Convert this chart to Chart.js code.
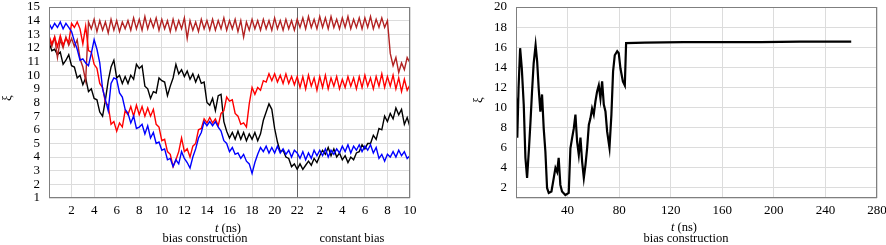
<!DOCTYPE html>
<html>
<head>
<meta charset="utf-8">
<script src="https://cdn.jsdelivr.net/npm/chart.js@4.4.1/dist/chart.umd.min.js"></script>
<style>
  html, body { margin: 0; padding: 0; background: #fff; }
  #wrap { position: relative; width: 886px; height: 245px; overflow: hidden; font-family: 'Liberation Serif', serif; }
  canvas { position: absolute; top: 0; }
  .lbl { position: absolute; font-size: 12.5px; line-height: 1; color: #000; white-space: nowrap; transform: translate(-50%, -50%); }
  .ylbl { font-size: 13px; transform: translate(-50%, -50%) rotate(-90deg); }
</style>
</head>
<body>
<div id="wrap">
  <canvas id="leftChart" width="440" height="245" style="left:0"></canvas>
  <canvas id="rightChart" width="446" height="245" style="left:440px"></canvas>
  <div class="lbl ylbl" style="left:6px; top:98px">ξ</div>
  <div class="lbl" style="left:228px; top:228px"><i>t</i> (ns)</div>
  <div class="lbl" style="left:205px; top:238px">bias construction</div>
  <div class="lbl" style="left:352px; top:238px">constant bias</div>
  <div class="lbl ylbl" style="left:477px; top:100px">ξ</div>
  <div class="lbl" style="left:684px; top:227px"><i>t</i> (ns)</div>
  <div class="lbl" style="left:686px; top:238px">bias construction</div>
</div>
<script>
// --- data, left panel: one sample every 0.25 ns, 0..32 (22 ns build-up + 10 ns constant bias) ---
const leftStep = 0.25;
const splitAt = 22;

const darkRedXi = [
  12.7, 12.1, 12.8, 11.3, 12.6, 12.0, 12.8, 12.2, 12.7, 12.1, 12.6, 11.2, 10.6, 9.6, 13.9, 13.4,
  14.1, 13.2, 14.0, 13.3, 13.9, 13.1, 14.1, 13.3, 14.0, 13.2, 13.9, 13.4, 14.0,
  13.3, 14.2, 13.4, 14.1, 13.3, 14.3, 13.4, 14.1, 13.5, 14.2, 13.3, 14.1,
  13.4, 14.0, 13.2, 14.1, 13.3, 14.0, 13.4, 14.2, 12.7, 14.0, 13.3, 13.9,
  13.2, 14.1, 13.4, 14.0, 13.3, 14.1, 13.3, 14.0, 13.4, 14.2, 13.3, 14.0,
  13.4, 14.1, 13.2, 14.0, 12.8, 13.9, 13.3, 14.1, 13.4, 14.0, 13.3, 14.1,
  13.4, 14.0, 13.3, 14.2, 13.4, 14.0, 13.3, 14.1, 13.4, 14.0, 13.3, 14.1,
  13.5, 14.2, 13.4, 14.3, 13.5, 14.1, 13.4, 14.3, 13.5, 14.2, 13.4, 14.3,
  13.5, 14.1, 13.4, 14.2, 13.5, 14.3, 13.4, 14.1, 13.5, 14.2, 13.4, 14.2,
  13.5, 14.3, 13.4, 14.1, 13.5, 14.2, 13.5,
  14.0,
  11.6, 10.7, 11.3, 10.2, 10.9, 10.4, 11.3, 10.9
];

const redXi = [
  12.9, 12.3, 12.8, 12.1, 12.9, 12.2, 12.7, 12.4, 13.8, 13.5, 13.9, 13.4, 12.3, 13.6, 11.8, 11.7,
  10.8, 10.5, 9.4, 9.1, 8.0, 7.8, 6.4, 6.6, 5.9, 6.5, 6.2, 7.4,
  7.1, 7.7, 7.0, 7.8, 7.1, 7.7, 7.0, 7.6, 7.0, 7.5, 6.4, 6.2,
  5.2, 5.3, 4.4, 4.2, 3.3, 3.8, 4.4, 5.4, 4.4, 4.6, 4.0, 4.8,
  5.0, 6.0, 6.1, 6.8, 6.5, 6.9, 6.5, 6.8, 6.3, 7.2, 7.4, 8.4,
  8.1, 8.2, 7.2, 7.0, 6.4, 6.5, 6.2, 7.9, 9.1, 8.6, 9.1, 8.9,
  9.6, 9.5, 10.1, 9.6, 10.1, 9.5, 10.0, 9.4, 10.1, 9.4, 9.9, 9.3, 9.9,
  9.1, 9.9, 9.0, 10.0, 9.2, 9.8, 8.9, 9.9, 9.1, 10.0,
  9.0, 9.8, 9.2, 9.9, 9.0, 9.7, 9.1, 9.9, 9.2, 9.8,
  9.0, 9.9, 9.1, 10.0, 9.2, 9.8, 9.0, 9.9, 9.2, 10.1,
  9.1, 9.9, 9.2, 10.0, 9.0, 9.8, 8.8, 9.7, 8.9, 9.3
];

const blueXi = [
  13.8, 13.4, 13.8, 13.5, 13.9, 13.4, 13.8, 13.5, 13.2, 12.5, 11.9, 11.1, 11.2, 10.9, 10.7, 11.6,
  12.6, 11.9, 10.9, 9.0, 8.2, 7.4, 9.4, 9.8, 9.7, 8.7, 8.4, 7.5,
  7.2, 6.5, 7.0, 6.1, 6.2, 6.4, 5.7, 6.3, 5.4, 5.8, 5.0, 5.1,
  4.5, 4.6, 3.8, 3.9, 3.3, 3.8, 3.5, 4.4, 3.9, 3.6, 3.2, 4.0,
  4.6, 5.4, 5.8, 6.6, 6.3, 6.6, 6.3, 6.6, 6.2, 5.9, 5.2, 5.0,
  4.4, 4.7, 4.2, 4.3, 3.9, 4.2, 3.7, 3.5, 2.8, 3.6, 4.2, 4.7,
  4.4, 4.8, 4.3, 4.7, 4.3, 4.8, 4.3, 4.6, 4.2, 4.5, 4.0, 4.5, 4.3,
  3.9, 4.4, 3.8, 4.3, 3.9, 4.5,
  4.1, 4.5, 4.1, 4.6, 4.0, 4.5, 4.2, 4.6,
  4.3, 4.8, 4.4, 4.9, 4.3, 4.8, 4.5, 4.9, 4.4, 4.8, 4.5, 4.9, 4.3, 4.7,
  3.9, 4.2, 3.7, 4.2,
  4.0, 4.4, 4.0, 4.5, 4.1, 4.4, 3.9, 4.1
];

const blackXi = [
  12.4, 11.8, 11.9, 11.5, 11.7, 10.8, 11.1, 11.5, 10.7, 10.6, 9.8, 10.0, 9.3, 9.8, 8.8, 9.0,
  8.3, 8.2, 7.3, 7.0, 8.2, 9.6, 10.6, 11.1, 9.8, 10.0, 9.4, 9.9,
  9.4, 10.0, 9.7, 10.8, 10.5, 10.7, 9.2, 9.0, 8.3, 8.8, 8.7, 9.8,
  9.6, 9.5, 8.5, 9.2, 9.8, 10.8, 10.1, 10.4, 9.9, 10.3, 9.7, 10.1,
  9.5, 10.0, 9.4, 9.5, 8.0, 7.8, 8.3, 7.4, 8.5, 8.6, 6.6, 5.9,
  5.4, 5.8, 5.3, 5.9, 5.3, 5.8, 5.2, 5.7, 5.3, 5.8, 5.2, 5.7,
  6.7, 7.3, 7.9, 7.5, 6.1, 5.1, 4.4, 4.5, 4.0, 3.9, 3.3, 3.5, 3.1,
  3.5, 3.1, 3.4, 3.7, 3.4, 3.9, 3.6, 4.1, 4.5, 4.2,
  4.7, 4.1, 4.6, 4.0, 4.3, 3.8, 4.1, 3.6, 4.0, 3.8,
  4.3, 4.4, 4.9, 4.6, 5.0, 5.0, 5.6, 5.3, 6.1, 6.0,
  7.0, 6.6, 7.2, 6.8, 7.6, 7.1, 7.5, 6.4, 6.9, 6.2
];

// --- data, right panel ---
const rightT = [
  0, 1, 2, 3.2, 4.5, 6, 7.3, 8.6, 10, 11.2, 12.4, 13.7, 15.2, 16.4, 17.6, 18.9, 20.2, 21.5,
  22.8, 24.1, 25.4, 27.5, 29.3, 30.6, 31.9, 33.1, 34.4, 35.7, 38.3, 40.9, 42.2, 43.5, 44.8,
  46.1, 47.4, 48.7, 50, 51.3, 52.6, 53.9, 55.2, 56.5, 57.7, 59, 60.3, 61.6, 62.9, 64.2,
  65.5, 66.8, 68.1, 69.4, 70.7, 72.5, 74, 75.3, 76.6, 78.5, 79.7, 81, 82.9, 84.4, 85.4,
  100, 130, 160, 190, 220, 250, 260
];
const rightXi = [
  11, 7.0, 12.0, 15.9, 13.9, 10.3, 5.0, 3.0, 5.8, 8.5, 11.5, 14.4, 16.2, 14.6, 11.9, 9.6, 11.3, 7.9,
  5.6, 2.0, 1.5, 1.65, 3.0, 4.0, 3.6, 5.0, 2.3, 1.65, 1.3, 1.5, 5.95, 6.95, 7.9,
  9.3, 6.6, 5.3, 7.0, 4.6, 3.0, 4.3, 6.0, 8.3, 8.9, 9.9, 9.3, 10.6, 11.6, 12.2,
  10.9, 12.6, 10.3, 9.6, 7.6, 6.0, 9.3, 13.6, 15.2, 15.6, 15.4, 13.9, 12.6, 12.2, 16.4,
  16.45, 16.5, 16.5, 16.5, 16.55, 16.55, 16.55
];
const rightYTicks = [1, 2, 4, 6, 8, 10, 12, 14, 16, 18, 20];

// --- helpers ---
const tickFont = { family: 'Liberation Serif', size: 13 };
const frame = {
  id: 'frame',
  beforeDatasetsDraw(chart, args, opts) {
    if (opts.splitAt === undefined) return;
    const a = chart.chartArea;
    const c = chart.ctx;
    const x = Math.round(chart.scales.x.getPixelForValue(opts.splitAt)) + 0.5;
    c.save();
    c.strokeStyle = '#666666';
    c.lineWidth = 1;
    c.beginPath();
    c.moveTo(x, a.top);
    c.lineTo(x, a.bottom);
    c.stroke();
    c.restore();
  },
  afterDraw(chart) {
    const a = chart.chartArea;
    const c = chart.ctx;
    c.save();
    c.strokeStyle = '#7f7f7f';
    c.lineWidth = 1;
    c.strokeRect(a.left + 0.5, a.top + 0.5, a.right - a.left - 1, a.bottom - a.top - 1);
    c.restore();
  }
};

function toPoints(values) {
  return values.map((v, i) => ({ x: i * leftStep, y: v }));
}

function series(label, values, color, width) {
  return {
    label: label,
    data: values,
    borderColor: color,
    borderWidth: width,
    pointRadius: 0,
    tension: 0,
    fill: false
  };
}

function fitX(h) {
  return (s) => { s.height = h; s.paddingLeft = 0; s.paddingRight = 0; };
}
function fitY(w) {
  return (s) => { s.width = w; s.paddingTop = 0; s.paddingBottom = 0; };
}

// --- left chart ---
new Chart(document.getElementById('leftChart'), {
  type: 'line',
  data: {
    datasets: [
      series('blue', toPoints(blueXi), '#0000ff', 1.4),
      series('red', toPoints(redXi), '#ff0000', 1.4),
      series('dark red', toPoints(darkRedXi), '#b22222', 1.4),
      series('black', toPoints(blackXi), '#000000', 1.4)
    ]
  },
  options: {
    responsive: false,
    animation: false,
    layout: { padding: { top: 7, right: 30, left: 0, bottom: 0 } },
    plugins: { legend: { display: false }, tooltip: { enabled: false }, frame: { splitAt: splitAt } },
    scales: {
      x: {
        type: 'linear', min: 0, max: 32,
        grid: {
          drawTicks: false,
          color: (c) => c.tick && c.tick.value === splitAt ? 'rgba(0,0,0,0)' : '#dcdcdc'
        },
        border: { display: false },
        ticks: {
          stepSize: 2, autoSkip: false, maxRotation: 0, padding: 5, color: '#000', font: tickFont,
          callback: (v) => v === 0 ? '' : (v > splitAt ? v - splitAt : v)
        },
        afterFit: fitX(47)
      },
      y: {
        min: 1, max: 15,
        grid: { drawTicks: false, color: '#dcdcdc' },
        border: { display: false },
        ticks: { stepSize: 1, autoSkip: false, padding: 9, color: '#000', font: tickFont },
        afterFit: fitY(49)
      }
    }
  },
  plugins: [frame]
});

// --- right chart ---
new Chart(document.getElementById('rightChart'), {
  type: 'line',
  data: {
    datasets: [
      series('xi', rightT.map((t, i) => ({ x: t, y: rightXi[i] })), '#000000', 2.2)
    ]
  },
  options: {
    responsive: false,
    animation: false,
    layout: { padding: { top: 7, right: 9, left: 0, bottom: 0 } },
    plugins: { legend: { display: false }, tooltip: { enabled: false } },
    scales: {
      x: {
        type: 'linear', min: 0, max: 280,
        grid: { drawTicks: false, color: '#dcdcdc' },
        border: { display: false },
        ticks: {
          stepSize: 40, autoSkip: false, maxRotation: 0, padding: 5, color: '#000', font: tickFont,
          callback: (v) => v === 0 ? '' : v
        },
        afterFit: fitX(47)
      },
      y: {
        min: 1, max: 20,
        grid: { drawTicks: false, color: '#dcdcdc' },
        border: { display: false },
        afterBuildTicks: (s) => { s.ticks = rightYTicks.map((v) => ({ value: v })); },
        ticks: {
          autoSkip: false, padding: 9, color: '#000', font: tickFont,
          callback: (v) => v === 1 ? '' : v
        },
        afterFit: fitY(76)
      }
    }
  },
  plugins: [frame]
});
</script>
</body>
</html>
